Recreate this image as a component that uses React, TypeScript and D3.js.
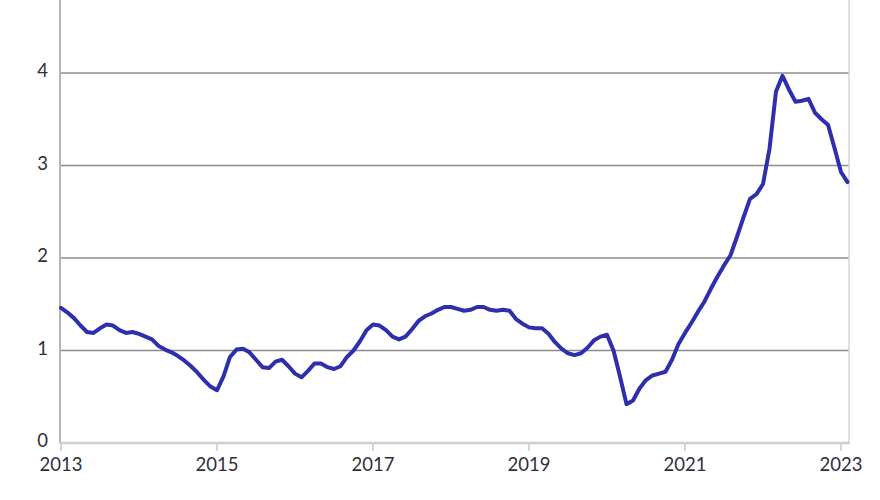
import React from "react";
import * as d3 from "d3";

const START_YEAR = 2013;
const values2013 = [1.46, 1.41, 1.35, 1.27, 1.2, 1.19, 1.24, 1.28, 1.27, 1.22, 1.19, 1.2];
const values2014 = [1.18, 1.15, 1.12, 1.05, 1.01, 0.98, 0.94, 0.89, 0.83, 0.76, 0.68, 0.61];
const values2015 = [0.57, 0.72, 0.93, 1.01, 1.02, 0.98, 0.9, 0.82, 0.81, 0.88, 0.9, 0.83];
const values2016 = [0.75, 0.71, 0.78, 0.86, 0.86, 0.82, 0.8, 0.83, 0.93, 1.0, 1.1, 1.22];
const values2017 = [1.28, 1.27, 1.22, 1.15, 1.12, 1.15, 1.23, 1.32, 1.37, 1.4, 1.44, 1.47];
const values2018 = [1.47, 1.45, 1.43, 1.44, 1.47, 1.47, 1.44, 1.43, 1.44, 1.43, 1.34, 1.29];
const values2019 = [1.25, 1.24, 1.24, 1.18, 1.09, 1.02, 0.97, 0.95, 0.97, 1.03, 1.11, 1.15];
const values2020 = [1.17, 1.0, 0.72, 0.42, 0.46, 0.59, 0.68, 0.73, 0.75, 0.77, 0.9, 1.07];
const values2021 = [1.19, 1.3, 1.42, 1.53, 1.67, 1.8, 1.92, 2.03, 2.23, 2.44, 2.64, 2.69];
const values2022 = [2.8, 3.18, 3.8, 3.97, 3.82, 3.69, 3.7, 3.72, 3.57, 3.5, 3.44, 3.19];
const values2023 = [2.93, 2.82];

const xTicks = [2013, 2015, 2017, 2019, 2021, 2023];
const yTicks = [0, 1, 2, 3, 4];

const monthly = [
  ...values2013, ...values2014, ...values2015, ...values2016, ...values2017,
  ...values2018, ...values2019, ...values2020, ...values2021, ...values2022, ...values2023,
];
const series = monthly.map((v, i) => ({ t: START_YEAR + i / 12, v }));

export default function App() {
  const W = 880, H = 500;
  const left = 61, right = 849, bottom = 443;
  const x = d3.scaleLinear().domain([2013, 2023]).range([61, 841]);
  const y = d3.scaleLinear().domain([0, 4]).range([443, 73]);
  const line = d3.line<{ t: number; v: number }>().x(d => x(d.t)).y(d => y(d.v)).curve(d3.curveLinear);
  const font = "Lato, 'Open Sans', sans-serif";
  return (
    <svg width={W} height={H} style={{ position: "absolute", left: 0, top: 0, background: "#fff" }}>
      {yTicks.filter(t => t > 0).map(t => (
        <line key={t} x1={left} x2={right} y1={y(t)} y2={y(t)} stroke="#8c8c8c" strokeWidth={1.5} />
      ))}
      <line x1={right} x2={right} y1={0} y2={bottom} stroke="#d4d4d4" strokeWidth={1.5} />
      <line x1={left - 1} x2={left - 1} y1={0} y2={bottom + 1} stroke="#b5b5b5" strokeWidth={2} />
      <line x1={left - 2} x2={right + 1} y1={bottom} y2={bottom} stroke="#cfcfcf" strokeWidth={2.5} />
      {xTicks.map(t => (
        <g key={t}>
          <line x1={x(t)} x2={x(t)} y1={bottom} y2={bottom + 8} stroke="#d6d6d6" strokeWidth={2} />
          <text x={x(t)} y={471} textAnchor="middle" fontFamily={font} fontSize={18.5} fill="#2f2f3a">
            {t}
          </text>
        </g>
      ))}
      {yTicks.map(t => (
        <text key={t} x={48} y={y(t) + 4} textAnchor="end" fontFamily={font} fontSize={18.5} fill="#2f2f3a">
          {t}
        </text>
      ))}
      <path d={line(series) || ""} fill="none" stroke="#2f2fad" strokeWidth={4} strokeLinejoin="round" strokeLinecap="round" />
    </svg>
  );
}
